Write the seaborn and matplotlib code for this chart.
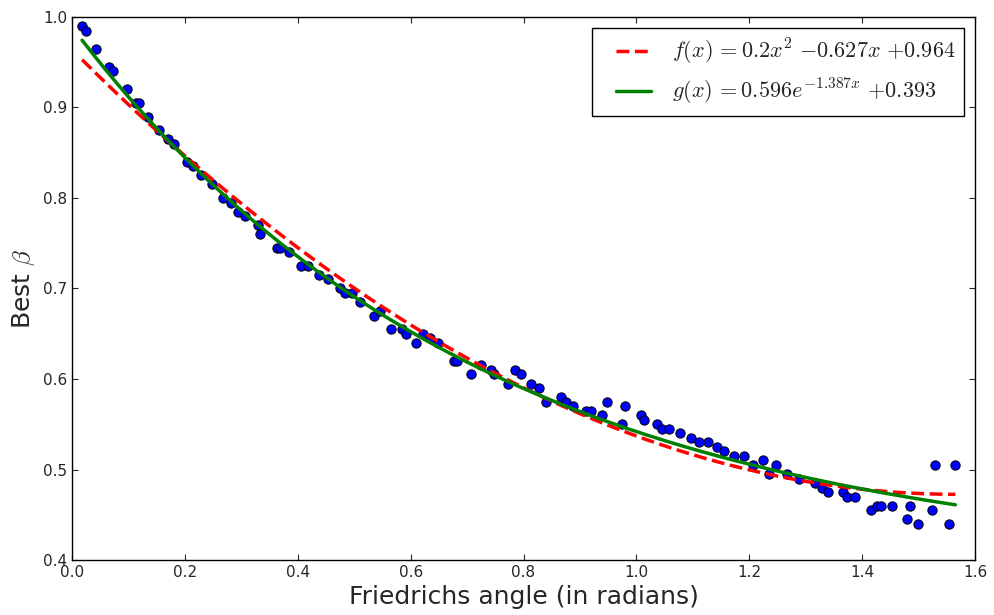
import numpy as np
import pandas as pd
import matplotlib
matplotlib.use("Agg")
import matplotlib.pyplot as plt
from matplotlib.lines import Line2D
from matplotlib.legend_handler import HandlerLine2D
import seaborn as sns

angle = [0.018, 0.024, 0.042, 0.066, 0.072, 0.097, 0.114, 0.119, 0.135, 0.154,
         0.171, 0.180, 0.203, 0.215, 0.229, 0.248, 0.268, 0.281, 0.295, 0.306,
         0.330, 0.333, 0.363, 0.369, 0.384, 0.406, 0.418, 0.437, 0.453, 0.474,
         0.483, 0.496, 0.510, 0.535, 0.546, 0.566, 0.584, 0.592, 0.609, 0.622,
         0.634, 0.649, 0.676, 0.683, 0.707, 0.725, 0.742, 0.748, 0.773, 0.785,
         0.795, 0.814, 0.827, 0.840, 0.866, 0.875, 0.887, 0.911, 0.919, 0.939,
         0.948, 0.975, 0.980, 1.008, 1.013, 1.036, 1.045, 1.057, 1.077, 1.096,
         1.111, 1.126, 1.142, 1.156, 1.173, 1.191, 1.206, 1.224, 1.235, 1.248,
         1.266, 1.288, 1.317, 1.329, 1.339, 1.366, 1.373, 1.387, 1.416, 1.427,
         1.433, 1.453, 1.479, 1.485, 1.499, 1.524, 1.529, 1.554, 1.565]
best_beta = [0.990, 0.985, 0.965, 0.945, 0.940, 0.920, 0.905, 0.905, 0.890, 0.875,
             0.865, 0.860, 0.840, 0.835, 0.825, 0.815, 0.800, 0.795, 0.785, 0.780,
             0.770, 0.760, 0.745, 0.745, 0.740, 0.725, 0.725, 0.715, 0.710, 0.700,
             0.695, 0.695, 0.685, 0.670, 0.675, 0.655, 0.655, 0.650, 0.640, 0.650,
             0.645, 0.640, 0.620, 0.620, 0.605, 0.615, 0.610, 0.605, 0.595, 0.610,
             0.605, 0.595, 0.590, 0.575, 0.580, 0.575, 0.570, 0.565, 0.565, 0.560,
             0.575, 0.550, 0.570, 0.560, 0.555, 0.550, 0.545, 0.545, 0.540, 0.535,
             0.530, 0.530, 0.525, 0.520, 0.515, 0.515, 0.505, 0.510, 0.495, 0.505,
             0.495, 0.490, 0.485, 0.480, 0.475, 0.475, 0.470, 0.470, 0.455, 0.460,
             0.460, 0.460, 0.445, 0.460, 0.440, 0.455, 0.505, 0.440, 0.505]

poly_coef = [0.2, -0.627, 0.964]      # a x^2 + b x + c
exp_coef = [0.596, -1.387, 0.393]     # A e^{k x} + C

sns.set_style("ticks")
plt.rcParams.update({
    "mathtext.fontset": "cm",
    "xtick.direction": "in", "ytick.direction": "in",
    "xtick.top": True, "ytick.right": True,
    "xtick.major.size": 4, "ytick.major.size": 4,
    "axes.edgecolor": "black", "axes.linewidth": 1.0,
    "font.family": ["DejaVu Sans"],
})

df = pd.DataFrame({"angle": angle, "beta": best_beta})
xs = np.linspace(min(angle), max(angle), 300)
fit = pd.DataFrame({
    "x": xs,
    "f": np.polyval(poly_coef, xs),
    "g": exp_coef[0] * np.exp(exp_coef[1] * xs) + exp_coef[2],
})

fig = plt.figure(figsize=(9.94, 6.15), dpi=100)
ax = fig.add_axes([0.0724, 0.0894, 0.9086, 0.883])

sns.scatterplot(data=df, x="angle", y="beta", ax=ax, color="#0000ff",
                edgecolor="black", linewidth=0.7, s=45, zorder=2)
sns.lineplot(data=fit, x="x", y="f", ax=ax, color="red", linestyle="--",
             linewidth=2.5, dashes=(3, 2.2), zorder=3,
             label=r"$f(x)\,{=}0.2x^2\ {-}0.627x\ {+}0.964$")
sns.lineplot(data=fit, x="x", y="g", ax=ax, color="green", linewidth=2.5, zorder=3,
             label=r"$g(x)\,{=}0.596e^{-1.387x}\ {+}0.393$")

ax.set_xlim(0, 1.6)
ax.set_ylim(0.4, 1.0)
ax.set_xticks(np.arange(0, 1.61, 0.2))
ax.set_yticks(np.arange(0.4, 1.01, 0.1))
ax.set_xticklabels([f"{v:.1f}" for v in np.arange(0, 1.61, 0.2)])
ax.set_yticklabels([f"{v:.1f}" for v in np.arange(0.4, 1.01, 0.1)])
ax.tick_params(labelsize=11)
ax.set_xlabel("Friedrichs angle (in radians)", fontsize=18)
ax.set_ylabel(r"Best $\beta$", fontsize=18)

handles, labels = ax.get_legend_handles_labels()
leg = ax.legend(handles, labels, loc="upper right", fontsize=16, frameon=True,
                fancybox=False, edgecolor="black", framealpha=1,
                handlelength=3.0, handletextpad=0.2, labelspacing=0.45,
                handler_map={Line2D: HandlerLine2D(numpoints=2, marker_pad=0.72)})
leg.get_frame().set_linewidth(1.0)

fig.savefig("out.png", dpi=100)
